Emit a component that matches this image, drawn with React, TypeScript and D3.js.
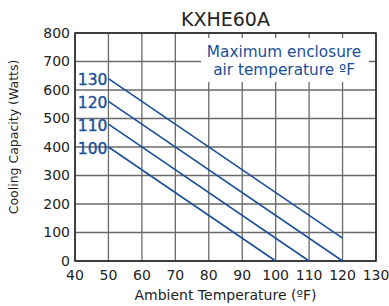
import React, { useEffect, useRef } from "react";
import * as d3 from "d3";

const xTicks = [40, 50, 60, 70, 80, 90, 100, 110, 120, 130];
const yTicks = [0, 100, 200, 300, 400, 500, 600, 700, 800];
const seriesNames = ["130", "120", "110", "100"];
const startTemps = [50, 50, 50, 50];
const startWatts = [640, 560, 480, 400];
const endTemps = [120, 120, 110, 100];
const endWatts = [80, 0, 0, 0];

const W = 389;
const H = 306;
const margin = { top: 33, right: 13, bottom: 45, left: 75 };
const FONT = "'DejaVu Sans', sans-serif";
const BLUE = "#1a4f9a";

export default function App() {
  const svgRef = useRef<SVGSVGElement>(null);

  useEffect(() => {
    const svg = d3.select(svgRef.current);
    svg.selectAll("*").remove();

    const x = d3.scaleLinear().domain([40, 130]).range([margin.left, W - margin.right]);
    const y = d3.scaleLinear().domain([0, 800]).range([H - margin.bottom, margin.top]);

    const g = svg.append("g");

    // grid
    g.selectAll(".vgrid")
      .data(xTicks)
      .enter()
      .append("line")
      .attr("x1", d => x(d))
      .attr("x2", d => x(d))
      .attr("y1", y(0))
      .attr("y2", y(800))
      .attr("stroke", "#6a6a6a")
      .attr("stroke-width", 1.3);

    g.selectAll(".hgrid")
      .data(yTicks)
      .enter()
      .append("line")
      .attr("x1", x(40))
      .attr("x2", x(130))
      .attr("y1", d => y(d))
      .attr("y2", d => y(d))
      .attr("stroke", "#6a6a6a")
      .attr("stroke-width", 1.3);

    // legend note with white background
    const note = g.append("g").attr("transform", `translate(${x(102.5)},0)`);
    note.append("rect")
      .attr("x", -83)
      .attr("y", 38)
      .attr("width", 168)
      .attr("height", 44)
      .attr("fill", "#fff");
    note.append("text")
      .attr("y", 57)
      .attr("text-anchor", "middle")
      .attr("font-family", FONT)
      .attr("font-size", 15.3)
      .attr("fill", BLUE)
      .text("Maximum enclosure");
    note.append("text")
      .attr("y", 74.5)
      .attr("text-anchor", "middle")
      .attr("font-family", FONT)
      .attr("font-size", 15.3)
      .attr("fill", BLUE)
      .text("air temperature ºF");

    // border
    g.append("rect")
      .attr("x", x(40))
      .attr("y", y(800))
      .attr("width", x(130) - x(40))
      .attr("height", y(0) - y(800))
      .attr("fill", "none")
      .attr("stroke", "#222")
      .attr("stroke-width", 1.5);

    // series lines
    seriesNames.forEach((name, i) => {
      g.append("line")
        .attr("x1", x(startTemps[i]))
        .attr("y1", y(startWatts[i]))
        .attr("x2", x(endTemps[i]))
        .attr("y2", y(endWatts[i]))
        .attr("stroke", BLUE)
        .attr("stroke-width", 1.6);
      g.append("text")
        .attr("x", x(startTemps[i]) - 1)
        .attr("y", y(startWatts[i]) + 6.5)
        .attr("text-anchor", "end")
        .attr("font-family", FONT)
        .attr("font-size", 15.5)
        .attr("fill", BLUE)
        .attr("stroke", BLUE)
        .attr("stroke-width", 0.35)
        .text(name);
    });

    // tick labels
    g.selectAll(".xt")
      .data(xTicks)
      .enter()
      .append("text")
      .attr("x", d => x(d))
      .attr("y", y(0) + 18.5)
      .attr("text-anchor", "middle")
      .attr("font-family", FONT)
      .attr("font-size", 14)
      .attr("fill", "#222")
      .text(d => d);

    g.selectAll(".yt")
      .data(yTicks)
      .enter()
      .append("text")
      .attr("x", x(40) - 5)
      .attr("y", d => y(d) + 4.5)
      .attr("text-anchor", "end")
      .attr("font-family", FONT)
      .attr("font-size", 14)
      .attr("fill", "#222")
      .text(d => d);

    // titles
    g.append("text")
      .attr("x", (x(40) + x(130)) / 2)
      .attr("y", 26)
      .attr("text-anchor", "middle")
      .attr("font-family", FONT)
      .attr("font-size", 19)
      .attr("fill", "#222")
      .text("KXHE60A");

    g.append("text")
      .attr("x", (x(40) + x(130)) / 2)
      .attr("y", H - 6)
      .attr("text-anchor", "middle")
      .attr("font-family", FONT)
      .attr("font-size", 14)
      .attr("fill", "#222")
      .text("Ambient Temperature (ºF)");

    g.append("text")
      .attr("transform", `translate(18,137) rotate(-90)`)
      .attr("text-anchor", "middle")
      .attr("font-family", FONT)
      .attr("font-size", 12.5)
      .attr("fill", "#222")
      .text("Cooling Capacity (Watts)");
  }, []);

  return (
    <svg ref={svgRef} width={W} height={H} style={{ position: "absolute", left: 0, top: 0 }} />
  );
}
